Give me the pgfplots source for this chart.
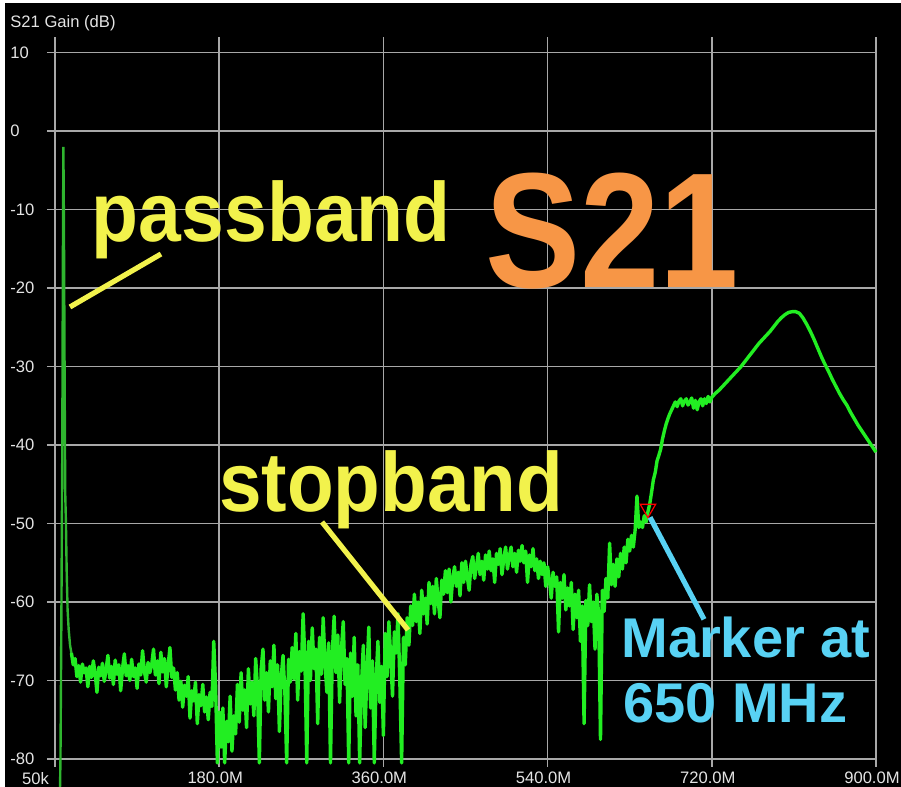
\documentclass[border=0pt]{standalone}
\usepackage{pgfplots}
\pgfplotsset{compat=1.18}
\usepackage{fontspec}
\setmainfont{Liberation Sans}

\definecolor{trace}{HTML}{22EE22}
\definecolor{spike}{HTML}{2FB52F}
\definecolor{gridgray}{HTML}{A8A8A8}
\definecolor{ticktext}{HTML}{E4E4E4}
\definecolor{noteyellow}{HTML}{F2F24C}
\definecolor{noteorange}{HTML}{F79646}
\definecolor{noteblue}{HTML}{58D2F4}

\begin{document}
\begin{tikzpicture}
% screenshot background: thin white strip left and top, black elsewhere
\fill[white] (-27.5pt,-14pt) rectangle (423pt,379.5pt);
\fill[black] (-25pt,-14pt) rectangle (423pt,378pt);
\node[anchor=west, text=ticktext, font=\fontsize{8.3}{10}\selectfont, inner sep=0pt]
  at (-22.5pt,368pt) {S21 Gain (dB)};

\begin{axis}[
    at={(0,0)}, anchor=south west,
    scale only axis,
    width=410.5pt, height=361pt,
    xmin=0, xmax=900,
    ymin=-80, ymax=12,
    axis line style={draw=none},
    xtick={0,180,360,540,720,900},
    xticklabels={{\makebox[0pt][r]{50k\hspace{1pt}}},180.0M,360.0M,540.0M,720.0M,900.0M},
    ytick={-80,-70,-60,-50,-40,-30,-20,-10,0,10},
    yticklabels={-80,-70,-60,-50,-40,-30,-20,-10,0,10},
    xtick pos=bottom, ytick pos=left,
    tick align=outside,
    major tick length=4pt,
    tick style={gridgray, line width=0.75pt},
    grid=major,
    major grid style={gridgray, line width=0.75pt},
    ticklabel style={text=ticktext, font=\fontsize{8.3}{10}\selectfont},
    xticklabel style={xshift=-2pt, yshift=1pt},
    yticklabel style={anchor=west, inner sep=0pt, xshift=-18.5pt},
    clip=false,
]

% passband spike
\addplot[spike, line width=1.2pt] coordinates {
(4,-95)(6,-80)(7,-62)(8,-40)(8.7,-15)(9.2,-2)(9.8,-12)(10.5,-30)(11.2,-46)
(12,-50)(12.8,-56)(13.8,-61)(15,-63.5)(16.5,-65.5)(18,-66.5)
};

% measured trace
\addplot[trace, line width=1.7pt, line join=round] coordinates {
(18,-66.5)(20,-68.0)(22,-67.2)(24,-69.5)(26,-68.1)(28,-70.2)(30,-67.9)(32,-69.0)
(34,-68.4)(36,-70.8)(38,-68.2)(40,-69.6)(42,-67.5)(44,-69.1)(46,-71.5)(48,-68.3)
(50,-69.4)(52,-67.8)(54,-70.1)(56,-68.6)(58,-66.8)(60,-69.7)(62,-68.2)(64,-70.5)
(66,-67.4)(68,-69.2)(70,-68.0)(72,-71.3)(74,-68.5)(76,-66.6)(78,-69.4)(80,-68.1)
(82,-70.0)(84,-67.3)(86,-69.5)(88,-68.4)(90,-71.0)(92,-67.9)(94,-69.3)(96,-66.2)
(98,-68.8)(100,-70.2)(102,-67.7)(104,-69.0)(106,-68.0)(108,-66.0)(110,-69.3)(112,-67.5)
(114,-70.4)(116,-66.4)(118,-68.9)(120,-67.2)(122,-70.8)(124,-68.1)(126,-65.8)(128,-69.6)
(130,-68.4)(132,-71.2)(134,-69.0)(136,-72.5)(138,-70.1)(140,-73.4)(142,-70.6)(144,-72.0)
(146,-69.5)(148,-74.8)(150,-71.3)(152,-72.6)(154,-70.2)(156,-75.5)(158,-71.8)(160,-73.2)
(162,-70.5)(164,-74.0)(166,-72.1)(168,-75.0)(170,-71.5)(172,-73.3)(174,-65.0)(176,-70.5)
(178,-80.5)(180,-74.0)(182,-78.5)(184,-73.5)(186,-80.5)(188,-75.2)(190,-77.8)(192,-72.0)
(194,-79.0)(196,-74.5)(198,-76.8)(200,-70.5)(202,-75.3)(204,-69.0)(206,-73.8)(208,-71.2)
(210,-76.0)(212,-68.5)(214,-73.0)(216,-70.2)(218,-74.5)(220,-67.2)(222,-71.0)(224,-80.5)
(226,-68.5)(228,-66.0)(230,-72.5)(232,-69.0)(234,-74.0)(236,-67.5)(238,-70.8)(240,-65.5)
(242,-72.3)(244,-68.0)(246,-76.5)(248,-69.5)(250,-66.8)(252,-71.5)(254,-80.5)(256,-67.3)
(258,-70.2)(260,-65.8)(262,-69.8)(264,-64.0)(266,-72.5)(268,-66.3)(270,-68.8)(272,-61.5)
(274,-67.5)(276,-80.5)(278,-65.0)(280,-70.0)(282,-63.3)(284,-68.5)(286,-66.0)(288,-75.5)
(290,-64.5)(292,-69.2)(294,-62.0)(296,-67.8)(298,-71.5)(300,-65.2)(302,-80.5)(304,-66.5)
(306,-61.8)(308,-69.0)(310,-64.2)(312,-72.8)(314,-66.0)(316,-62.5)(318,-70.5)(320,-67.2)
(322,-80.5)(324,-66.5)(326,-72.0)(328,-64.5)(330,-74.5)(332,-68.0)(334,-80.5)(336,-70.5)
(338,-65.5)(340,-76.0)(342,-69.0)(344,-63.2)(346,-73.5)(348,-67.5)(350,-80.5)(352,-70.0)
(354,-65.0)(356,-72.8)(358,-68.2)(360,-77.0)(362,-64.0)(364,-69.5)(366,-62.5)(368,-67.0)
(370,-72.0)(372,-63.8)(374,-66.5)(376,-61.5)(378,-70.0)(380,-80.5)(382,-64.5)(384,-68.0)
(386,-62.0)(388,-65.5)(390,-60.5)(392,-63.0)(394,-59.0)(396,-62.5)(398,-60.0)(400,-64.0)
(402,-58.5)(404,-61.5)(406,-59.5)(408,-62.8)(410,-57.5)(412,-60.2)(414,-58.0)(416,-61.5)
(418,-57.0)(420,-59.8)(422,-62.0)(424,-57.2)(426,-59.0)(428,-56.0)(430,-58.8)(432,-55.8)
(434,-60.0)(436,-57.0)(438,-55.5)(440,-58.0)(442,-56.2)(444,-59.2)(446,-55.0)(448,-57.5)
(450,-54.8)(452,-56.8)(454,-58.5)(456,-55.2)(458,-54.2)(460,-57.0)(462,-55.5)(464,-53.8)
(466,-56.5)(468,-54.8)(470,-57.2)(472,-54.0)(474,-55.8)(476,-53.5)(478,-56.0)(480,-54.5)
(482,-57.5)(484,-53.8)(486,-55.2)(488,-53.2)(490,-56.5)(492,-54.5)(494,-53.0)(496,-55.8)
(498,-54.2)(500,-53.0)(502,-55.5)(504,-53.8)(506,-56.2)(508,-53.4)(510,-54.8)(512,-52.8)
(514,-55.0)(516,-53.5)(518,-57.5)(520,-54.0)(522,-55.5)(524,-53.2)(526,-56.0)(528,-54.5)
(530,-57.0)(532,-54.8)(534,-56.5)(536,-55.0)(538,-58.0)(540,-55.5)(542,-57.2)(544,-59.5)
(546,-56.2)(548,-58.0)(550,-56.8)(552,-63.8)(554,-57.5)(556,-59.5)(558,-56.5)(560,-61.0)
(562,-58.2)(564,-60.5)(566,-57.5)(568,-63.5)(570,-59.0)(572,-62.0)(574,-58.5)(576,-65.0)
(578,-60.5)(580,-75.5)(582,-59.8)(584,-63.0)(586,-57.8)(588,-62.5)(590,-60.0)(592,-66.0)
(594,-59.0)(596,-61.5)(598,-77.5)(600,-58.5)(602,-61.2)(604,-57.0)(606,-59.5)(608,-52.5)
(610,-57.8)(612,-55.2)(614,-58.0)(616,-54.5)(618,-56.8)(620,-53.8)(622,-55.8)(624,-53.0)
(626,-55.0)(628,-52.0)(630,-53.5)(632,-51.5)(634,-53.0)(636,-50.8)(638,-46.5)(640,-50.5)
(642,-49.8)(644,-50.5)(646,-49.0)(648,-49.8)(650,-48.5)(652,-47.5)(654,-46.0)(656,-44.4)
(658,-43.5)(660,-42.0)(662,-41.3)(664,-40.5)(666,-39.2)(668,-38.2)(670,-37.3)(672,-36.6)
(674,-36.0)(676,-35.5)(678,-35.0)(680,-34.5)(682,-35.1)(684,-34.4)(686,-34.1)(688,-35.0)
(690,-34.4)(692,-34.1)(694,-34.9)(696,-34.5)(698,-34.0)(700,-35.3)(702,-34.3)(704,-35.5)
(706,-34.5)(708,-34.1)(710,-35.0)(712,-34.1)(714,-34.7)(716,-33.8)(718,-34.5)(720,-33.9)
(724,-33.4)(728,-33.0)(732,-32.5)(736,-32.0)(740,-31.5)(744,-31.0)(748,-30.5)(752,-30.0)
(756,-29.4)(760,-28.8)(764,-28.2)(768,-27.6)(772,-27.0)(776,-26.5)(780,-26.0)(784,-25.5)
(788,-24.9)(792,-24.3)(796,-23.8)(800,-23.4)(804,-23.1)(808,-23.0)(812,-23.0)(816,-23.2)
(820,-23.8)(824,-24.6)(828,-25.5)(832,-26.5)(836,-27.6)(840,-28.7)(844,-29.7)(848,-30.6)
(852,-31.6)(856,-32.5)(860,-33.4)(864,-34.2)(868,-34.9)(872,-35.8)(876,-36.6)(880,-37.4)
(884,-38.1)(888,-38.8)(892,-39.5)(896,-40.2)(900,-40.9)
};

% marker at 650 MHz
\addplot[only marks, mark=triangle, mark size=4.5pt,
    mark options={red, line width=0.6pt, rotate=180, fill=none}]
    coordinates {(650,-48.1)};

% annotations
\draw[noteyellow, line width=2.6pt] (axis cs:16.4,-22.4) -- (axis cs:116.2,-15.65);
\draw[noteyellow, line width=2.6pt] (axis cs:292.7,-49.8) -- (axis cs:387,-63.56);
\draw[noteblue, line width=2.6pt] (axis cs:652.3,-49.2) -- (axis cs:711.5,-62.2);

\node[anchor=base west, inner sep=0pt, text=noteyellow,
      font=\fontsize{42}{42}\selectfont\bfseries]
  at (axis cs:40,-14.1) {\scalebox{0.915}[1]{passband}};
\node[anchor=base west, inner sep=0pt, text=noteorange,
      font=\fontsize{82}{82}\selectfont\bfseries]
  at (axis cs:471,-19.9) {\scalebox{0.87}[1]{S21}};
\node[anchor=base west, inner sep=0pt, text=noteyellow,
      font=\fontsize{42}{42}\selectfont\bfseries]
  at (axis cs:179.5,-48.5) {\scalebox{0.91}[1]{stopband}};
\node[anchor=base west, inner sep=0pt, text=noteblue,
      font=\fontsize{28}{28}\selectfont\bfseries]
  at (axis cs:620.5,-67.1) {Marker at};
\node[anchor=base west, inner sep=0pt, text=noteblue,
      font=\fontsize{28}{28}\selectfont\bfseries]
  at (axis cs:622.7,-75.4) {650 MHz};
\end{axis}

\pgfresetboundingbox
\useasboundingbox (-27.5pt,-14pt) rectangle (423pt,379.5pt);
\end{tikzpicture}
\end{document}
